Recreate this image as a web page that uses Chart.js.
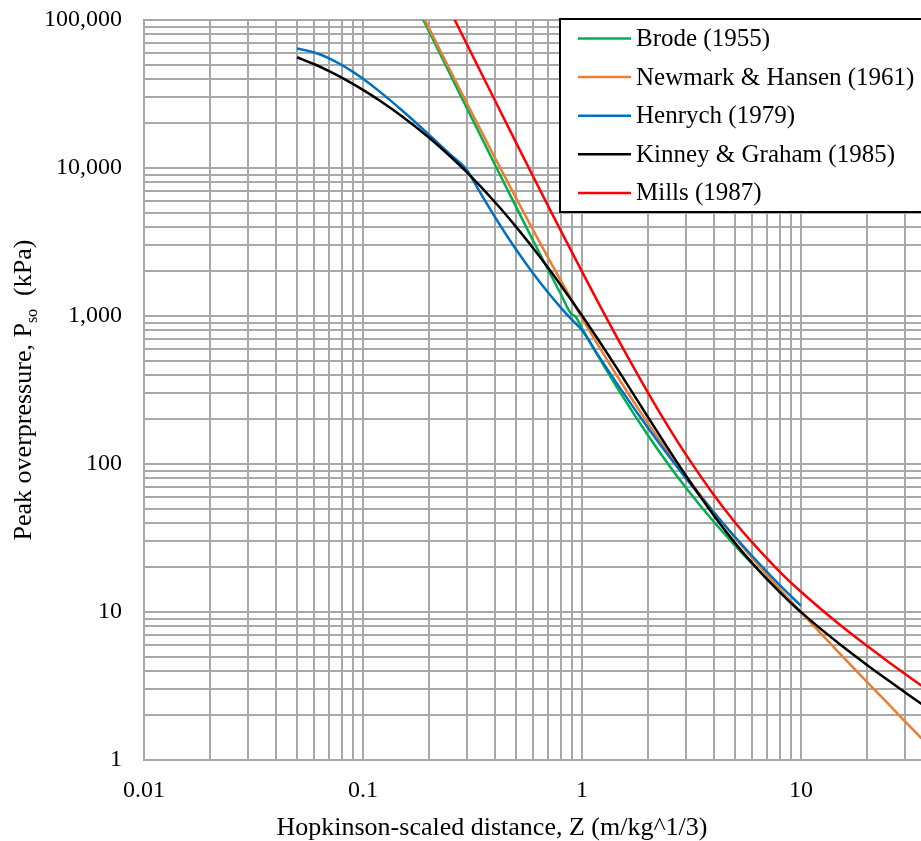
<!DOCTYPE html>
<html>
<head>
<meta charset="utf-8">
<script src="https://cdn.jsdelivr.net/npm/chart.js@4.4.1/dist/chart.umd.min.js"></script>
<style>
  html, body { margin: 0; padding: 0; background: #fff; overflow: hidden; }
  #area { width: 1020px; height: 841px; }
</style>
</head>
<body>
<div id="area"><canvas id="graficoPressao" width="1020" height="841"></canvas></div>
<script>
// Séries (Z em m/kg^1/3, pressão em kPa)
const zBrode = [0.18, 0.2, 0.25, 0.3, 0.4, 0.5, 0.6, 0.7, 0.8, 0.9, 0.93, 1, 1.2, 1.5, 2, 2.5, 3, 4, 5, 6, 7, 8, 10];
const pBrode = [115000, 83850, 42980, 24915, 10569, 5460, 3202, 2053, 1409, 1019, 998, 826, 519, 301, 156.4, 97.8, 68.4, 40.7, 28.1, 21.1, 16.7, 13.7, 9.89];

const zNewmark = [0.18, 0.2, 0.25, 0.3, 0.4, 0.5, 0.6, 0.7, 0.8, 1, 1.2, 1.5, 2, 2.5, 3, 4, 5, 6, 8, 10, 15, 20, 25, 30, 40];
const pNewmark = [120200, 88090, 45770, 26915, 11762, 6259, 3773, 2480, 1736, 972, 616, 361, 188.8, 117.8, 81.7, 47.35, 31.7, 23.1, 14.3, 9.98, 5.26, 3.37, 2.40, 1.81, 1.17];

const zHenrych = [0.05, 0.06, 0.07, 0.08, 0.09, 0.1, 0.12, 0.15, 0.2, 0.25, 0.3, 0.32, 0.35, 0.4, 0.45, 0.5, 0.6, 0.7, 0.8, 0.9, 1, 1.2, 1.5, 2, 2.5, 3, 4, 5, 6, 8, 10];
const pHenrych = [64140, 60290, 55110, 49680, 44600, 40020, 32550, 24660, 16820, 12370, 9600, 8123, 6476, 4676, 3555, 2814, 1929, 1440, 1140, 940, 800, 527, 322, 175.5, 112.3, 79.2, 47.0, 32.1, 23.8, 15.2, 11.0];

const zKinney = [0.05, 0.06, 0.07, 0.08, 0.1, 0.12, 0.15, 0.2, 0.25, 0.3, 0.4, 0.5, 0.6, 0.7, 0.8, 1, 1.2, 1.5, 2, 2.5, 3, 4, 5, 6, 8, 10, 15, 20, 25, 30, 40];
const pKinney = [55990, 50230, 45180, 40810, 33740, 28380, 22480, 16060, 12000, 9253, 5889, 4004, 2858, 2117, 1616, 1009, 675, 406, 207.9, 124.1, 82.3, 44.9, 29.2, 21.3, 13.6, 9.98, 6.07, 4.39, 3.46, 2.85, 2.12];

const zMills = [0.25, 0.3, 0.4, 0.5, 0.6, 0.7, 0.8, 1, 1.2, 1.5, 2, 2.5, 3, 4, 5, 6, 8, 10, 15, 20, 25, 30, 40];
const pMills = [115660, 67260, 28670, 14850, 8700, 5553, 3774, 1994, 1195, 648, 304, 174.8, 114.3, 61.8, 40.3, 29.4, 18.7, 13.7, 8.23, 5.91, 4.62, 3.79, 2.80];

const nomesSeries = ['Brode (1955)', 'Newmark & Hansen (1961)', 'Henrych (1979)', 'Kinney & Graham (1985)', 'Mills (1987)'];

// Eixos
const xMajor = [0.01, 0.1, 1, 10, 100];
const xMajorTexto = ['0.01', '0.1', '1', '10', '100'];
const yMajor = [1, 10, 100, 1000, 10000, 100000];
const yMajorTexto = ['1', '10', '100', '1,000', '10,000', '100,000'];
const subdivisoes = [1, 2, 3, 4, 5, 6, 7, 8, 9];

const tituloX = 'Hopkinson-scaled distance, Z (m/kg^1/3)';
const tituloY = ['Peak overpressure, P', 'so', '  (kPa)'];

const cores = ['#00b050', '#ed7d31', '#0070c0', '#000000', '#ff0000'];
const corGrade = '#a8a8a8';
const fonte = '"Liberation Serif", "Times New Roman", serif';

Chart.defaults.font.family = fonte;
Chart.defaults.font.size = 24;
Chart.defaults.color = '#000';

function gradeLog(majors) {
  const valores = [];
  majors.slice(0, -1).forEach(m => {
    subdivisoes.forEach(s => valores.push(+(m * s).toPrecision(6)));
  });
  valores.push(majors[majors.length - 1]);
  return valores;
}

function rotulo(majors, textos) {
  return (valor) => {
    const i = majors.findIndex(m => Math.abs(valor / m - 1) < 1e-6);
    return i >= 0 ? textos[i] : '';
  };
}

function pontos(zs, ps) {
  return zs.map((z, i) => ({ x: z, y: ps[i] }));
}

// Legenda em caixa dentro da área do gráfico
const legendaCaixa = {
  id: 'legendaCaixa',
  afterDraw(chart) {
    const ctx = chart.ctx;
    ctx.save();
    ctx.fillStyle = '#fff';
    ctx.fillRect(560, 19, 420, 193);
    ctx.lineWidth = 2;
    ctx.strokeStyle = '#000';
    ctx.strokeRect(560, 19, 420, 193);
    ctx.font = '25px ' + fonte;
    ctx.textAlign = 'left';
    ctx.textBaseline = 'middle';
    chart.data.datasets.forEach((ds, i) => {
      const y = 38.5 + i * 38.6;
      ctx.strokeStyle = ds.borderColor;
      ctx.lineWidth = 2.5;
      ctx.beginPath();
      ctx.moveTo(578, y);
      ctx.lineTo(631, y);
      ctx.stroke();
      ctx.fillStyle = '#000';
      ctx.fillText(ds.label, 636, y + 1);
    });
    ctx.restore();
  }
};

// Títulos dos eixos (o do eixo Y tem subscrito)
const titulosEixos = {
  id: 'titulosEixos',
  afterDraw(chart) {
    const ctx = chart.ctx;
    const principal = '26px ' + fonte;
    const sub = '16px ' + fonte;
    ctx.save();
    ctx.fillStyle = '#000';
    ctx.font = principal;
    ctx.textAlign = 'center';
    ctx.textBaseline = 'middle';
    ctx.fillText(tituloX, 492, 828);

    ctx.translate(31, 390);
    ctx.rotate(-Math.PI / 2);
    ctx.textAlign = 'left';
    ctx.textBaseline = 'alphabetic';
    const w1 = ctx.measureText(tituloY[0]).width;
    const w3 = ctx.measureText(tituloY[2]).width;
    ctx.font = sub;
    const w2 = ctx.measureText(tituloY[1]).width;
    const x0 = -(w1 + w2 + w3) / 2;
    ctx.font = principal;
    ctx.fillText(tituloY[0], x0, 0);
    ctx.font = sub;
    ctx.fillText(tituloY[1], x0 + w1, 6);
    ctx.font = principal;
    ctx.fillText(tituloY[2], x0 + w1 + w2, 0);
    ctx.restore();
  }
};

const todasZ = [zBrode, zNewmark, zHenrych, zKinney, zMills];
const todasP = [pBrode, pNewmark, pHenrych, pKinney, pMills];

new Chart(document.getElementById('graficoPressao'), {
  type: 'line',
  data: {
    datasets: nomesSeries.map((nome, i) => ({
      label: nome,
      data: pontos(todasZ[i], todasP[i]),
      borderColor: cores[i],
      backgroundColor: cores[i],
      borderWidth: 2.5,
      pointRadius: 0,
      fill: false,
      cubicInterpolationMode: 'monotone',
      order: nomesSeries.length - i
    }))
  },
  options: {
    responsive: false,
    animation: false,
    events: [],
    layout: { padding: { top: 20, right: 0, bottom: 0, left: 0 }, autoPadding: false },
    plugins: { legend: { display: false }, tooltip: { enabled: false } },
    scales: {
      x: {
        type: 'logarithmic', min: 0.01, max: 100,
        afterBuildTicks: s => { s.ticks = gradeLog(xMajor).map(v => ({ value: v })); },
        afterFit: s => { s.height = 81; s.paddingLeft = 0; s.paddingRight = 0; },
        grid: { color: corGrade, lineWidth: 2, drawTicks: false },
        border: { color: corGrade, width: 2 },
        ticks: { autoSkip: false, maxRotation: 0, padding: 16, callback: rotulo(xMajor, xMajorTexto) }
      },
      y: {
        type: 'logarithmic', min: 1, max: 100000,
        afterBuildTicks: s => { s.ticks = gradeLog(yMajor).map(v => ({ value: v })); },
        afterFit: s => { s.width = 144; s.paddingTop = 0; s.paddingBottom = 0; },
        grid: { color: corGrade, lineWidth: 2, drawTicks: false },
        border: { color: corGrade, width: 2 },
        ticks: { autoSkip: false, padding: 22, callback: rotulo(yMajor, yMajorTexto) }
      }
    }
  },
  plugins: [legendaCaixa, titulosEixos]
});
</script>
</body>
</html>
